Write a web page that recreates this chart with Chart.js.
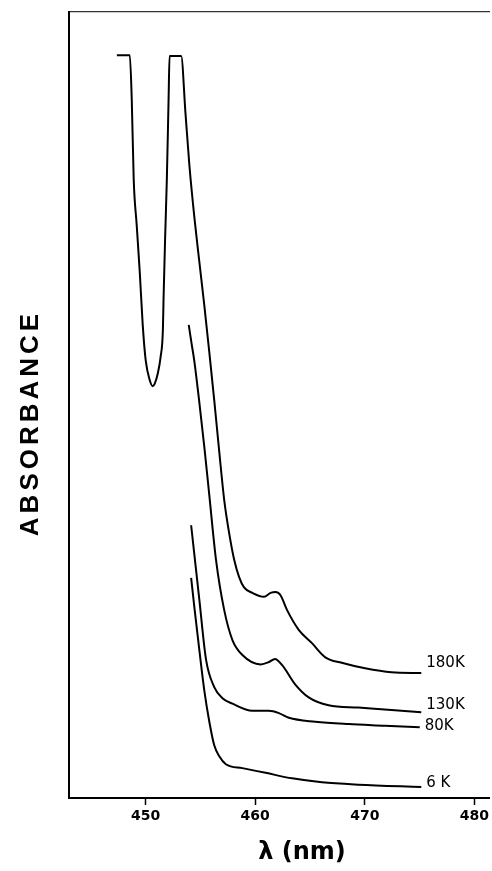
<!DOCTYPE html>
<html>
<head>
<meta charset="utf-8">
<script src="https://cdn.jsdelivr.net/npm/chart.js@4.4.1/dist/chart.umd.min.js"></script>
<style>
  body { margin: 0; background: #fff; }
  #wrap { width: 492px; height: 871px; }
</style>
</head>
<body>
<div id="wrap"><canvas id="chart" width="492" height="871"></canvas></div>
<script>
// wavelength (nm) and absorbance (arbitrary units)
const wl180 = [447.37, 448.55, 448.73, 448.91, 449.18, 449.46, 449.73, 450.00, 450.36, 450.64, 450.82, 451.12, 451.36, 451.57, 451.63, 451.77, 451.93, 452.09, 452.18, 453.24, 453.63, 453.99, 454.45, 454.90, 455.35, 455.81, 456.26, 456.72, 457.17, 457.62, 458.08, 458.53, 458.98, 459.74, 460.80, 461.41, 461.86, 462.31, 462.91, 463.97, 465.18, 466.40, 467.90, 470.03, 472.44, 475.16];
const ab180 = [0.945, 0.945, 0.888, 0.786, 0.729, 0.669, 0.602, 0.557, 0.532, 0.524, 0.527, 0.541, 0.561, 0.595, 0.634, 0.710, 0.786, 0.888, 0.944, 0.944, 0.872, 0.805, 0.738, 0.682, 0.627, 0.567, 0.506, 0.440, 0.379, 0.337, 0.303, 0.281, 0.268, 0.261, 0.256, 0.261, 0.262, 0.258, 0.239, 0.214, 0.197, 0.179, 0.172, 0.165, 0.160, 0.159];

const wl130 = [453.93, 454.17, 454.45, 454.90, 455.35, 455.81, 456.42, 457.17, 457.92, 458.83, 460.50, 461.25, 461.80, 462.46, 463.68, 464.88, 466.70, 469.42, 472.44, 475.16];
const ab130 = [0.602, 0.580, 0.555, 0.503, 0.447, 0.385, 0.303, 0.239, 0.201, 0.182, 0.170, 0.173, 0.177, 0.169, 0.144, 0.128, 0.118, 0.115, 0.112, 0.109];

const wl80 = [454.15, 454.45, 454.90, 455.51, 456.26, 457.01, 457.92, 459.74, 461.25, 462.16, 463.07, 465.49, 468.51, 471.84, 475.02];
const ab80 = [0.347, 0.309, 0.252, 0.176, 0.141, 0.127, 0.120, 0.111, 0.111, 0.108, 0.102, 0.097, 0.094, 0.092, 0.090];

const wl6 = [454.15, 454.45, 454.90, 455.35, 455.81, 456.26, 456.72, 457.32, 458.83, 460.95, 463.37, 466.09, 469.42, 475.16];
const ab6 = [0.280, 0.242, 0.188, 0.137, 0.097, 0.067, 0.053, 0.043, 0.038, 0.032, 0.025, 0.020, 0.017, 0.014];

const seriesNames = ['180K', '130K', '80K', '6 K'];
const xTicks = [450, 460, 470, 480];

function pts(xs, ys) {
    return xs.map((x, i) => ({ x: x, y: ys[i] }));
}

function curve(name, xs, ys, labelDy) {
    return {
        label: name,
        data: pts(xs, ys),
        borderColor: '#000',
        borderWidth: 2,
        pointRadius: 0,
        fill: false,
        cubicInterpolationMode: 'monotone',
        labelDy: labelDy
    };
}

const textPlugin = {
    id: 'texts',
    afterDraw(chart) {
        const ctx = chart.ctx;
        const xs = chart.scales.x;
        const ys = chart.scales.y;
        ctx.save();
        ctx.fillStyle = '#000';

        // curve labels at the right end of each trace
        ctx.font = '15px "DejaVu Sans", sans-serif';
        ctx.textBaseline = 'middle';
        ctx.textAlign = 'left';
        chart.data.datasets.forEach(ds => {
            const last = ds.data[ds.data.length - 1];
            ctx.fillText(ds.label, xs.getPixelForValue(last.x) + 5, ys.getPixelForValue(last.y) + ds.labelDy);
        });

        // axis titles
        ctx.font = 'bold 24px "DejaVu Sans", sans-serif';
        ctx.textAlign = 'center';
        ctx.fillText('λ (nm)', 302, 853);

        ctx.font = 'bold 26px "Liberation Sans", Arial, sans-serif';
        ctx.letterSpacing = '4px';
        ctx.translate(31, 423);
        ctx.rotate(-Math.PI / 2);
        ctx.fillText('ABSORBANCE', 0, 0);
        ctx.restore();
    }
};

new Chart(document.getElementById('chart'), {
    type: 'line',
    data: {
        datasets: [
            curve(seriesNames[0], wl180, ab180, -10),
            curve(seriesNames[1], wl130, ab130, -7.5),
            curve(seriesNames[2], wl80, ab80, -1),
            curve(seriesNames[3], wl6, ab6, -3.5)
        ]
    },
    options: {
        responsive: false,
        animation: false,
        layout: { padding: { top: 12, left: 0, right: 0, bottom: 0 } },
        plugins: {
            legend: { display: false },
            tooltip: { enabled: false }
        },
        scales: {
            x: {
                type: 'linear',
                min: 443.0,
                max: 481.4,
                afterBuildTicks: scale => { scale.ticks = xTicks.map(v => ({ value: v })); },
                afterFit: scale => { scale.height = 73; },
                ticks: {
                    color: '#000',
                    font: { family: '"DejaVu Sans", sans-serif', size: 14, weight: 'bold' },
                    padding: 3,
                    maxRotation: 0,
                    callback: v => String(v)
                },
                grid: {
                    drawOnChartArea: false,
                    tickLength: 7,
                    tickColor: '#000',
                    tickWidth: 1.5
                },
                border: { color: '#000', width: 2 }
            },
            xTop: {
                type: 'linear',
                position: 'top',
                min: 443.0,
                max: 481.4,
                afterFit: scale => { scale.height = 0; },
                ticks: { display: false },
                grid: { display: false },
                border: { color: '#333', width: 1.2 }
            },
            y: {
                min: 0,
                max: 1,
                afterFit: scale => { scale.width = 69; },
                ticks: { display: false },
                grid: { display: false },
                border: { color: '#000', width: 2 }
            }
        }
    },
    plugins: [textPlugin]
});
</script>
</body>
</html>
